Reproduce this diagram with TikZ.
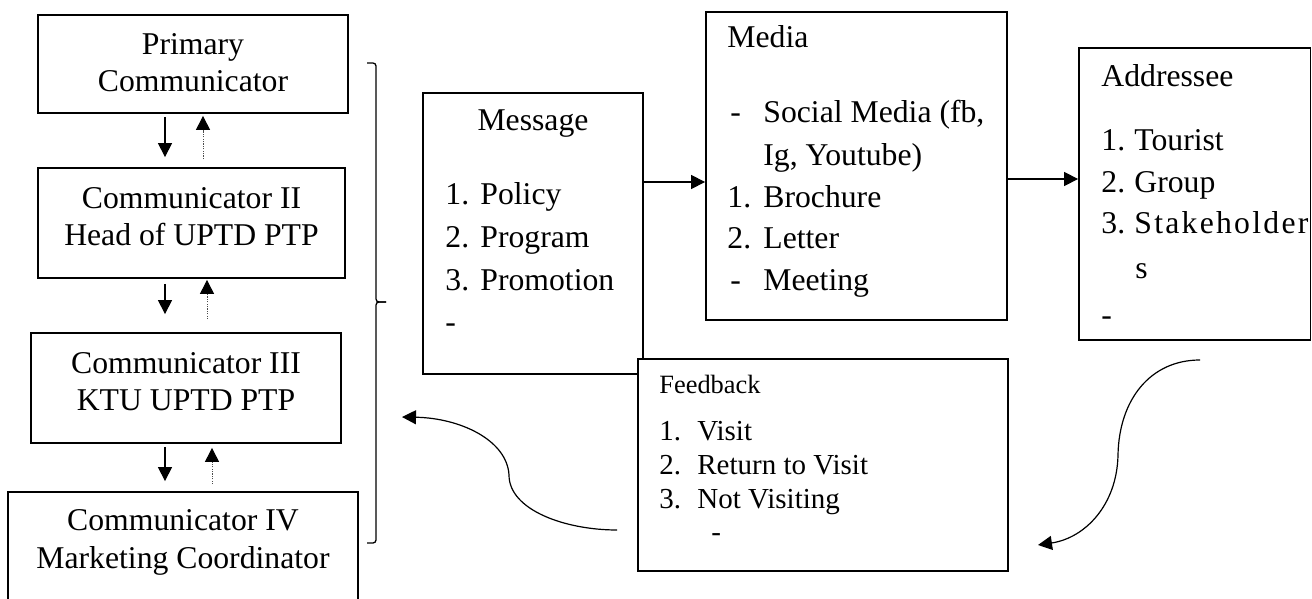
\documentclass[tikz,border=0pt]{standalone}
\usepackage{fontspec}
\setmainfont{Liberation Serif}
\usetikzlibrary{arrows.meta,fit}
\newcommand{\itemrow}[3]{\makebox[#1][l]{#2}#3}
\begin{document}
\begin{tikzpicture}[x=0.5pt,y=-0.5pt,
  box/.style={draw, line width=0.9pt, inner sep=0pt, fill=white},
  txt/.style={inner sep=0pt, font=\fontsize{15.85}{18}\selectfont},
  ftxt/.style={inner sep=0pt, font=\fontsize{14.5}{17}\selectfont},
  fhead/.style={inner sep=0pt, font=\fontsize{13.2}{16}\selectfont},
  arr/.style={line width=0.6pt, -{Triangle[length=7pt,width=7pt]}},
  dotarr/.style={line width=0.5pt, black!70, dash pattern=on 0.6pt off 0.6pt, -{Triangle[length=7pt,width=7pt,color=black]}},
  brace/.style={line width=0.65pt, rounded corners=1.5pt},
]
\useasboundingbox (0,0) rectangle (1312,599);
\clip (0,0) rectangle (1312,599);

% left column boxes
\node[box, fit={(38,15) (348,113)}] (b1) {};
\node[box, fit={(38,168) (345,278)}] (b2) {};
\node[box, fit={(31,333) (341,443)}] (b3) {};
\node[box, fit={(8,492) (358,625)}] (b4) {};

\node[txt, anchor=base] (t1a) at (193,55) {Primary};
\node[txt, anchor=base] (t1b) at (193,92) {Communicator};
\node[txt, anchor=base] (t2a) at (191.5,208) {Communicator II};
\node[txt, anchor=base] (t2b) at (191.5,245) {Head of UPTD PTP};
\node[txt, anchor=base] (t3a) at (186,373) {Communicator III};
\node[txt, anchor=base] (t3b) at (186,410) {KTU UPTD PTP};
\node[txt, anchor=base] (t4a) at (183,530) {Communicator IV};
\node[txt, anchor=base] (t4b) at (183,568) {Marketing Coordinator};

% vertical arrows
\coordinate (xs) at (165,0);
\coordinate (xd1) at (203,0);
\coordinate (xd2) at (207,0);
\coordinate (xd3) at (212,0);
\draw[arr, shorten <=1.5pt, shorten >=5pt] (b1.south -| xs) -- (b2.north -| xs);
\draw[dotarr, shorten <=4pt, shorten >=1pt] (b2.north -| xd1) -- (b1.south -| xd1);
\draw[arr, shorten <=2.5pt, shorten >=9pt] (b2.south -| xs) -- (b3.north -| xs);
\draw[dotarr, shorten <=6.5pt, shorten >=0.5pt] (b3.north -| xd2) -- (b2.south -| xd2);
\draw[arr, shorten <=1.5pt, shorten >=5pt] (b3.south -| xs) -- (b4.north -| xs);
\draw[dotarr, shorten <=3.5pt, shorten >=2pt] (b4.north -| xd3) -- (b3.south -| xd3);

% brace
\draw[brace] (367,63) -- (376,63) -- (376,302) -- (386,302);
\draw[brace] (386,302) -- (376,302) -- (376,543) -- (367,543);

% message / media / addressee / feedback
\node[box, fit={(423,93) (643,374)}] (msg) {};
\node[box, fit={(706,12) (1007,320)}] (media) {};
\node[box, fit={(1079,48) (1310.5,340)}] (addr) {};
\node[box, fit={(638,359) (1008,571)}] (fb) {};

\node[txt, anchor=base] (mh) at (533,131) {Message};
\node[txt, anchor=base west] (m1) at (445,205) {\itemrow{17.5pt}{1.}{Policy}};
\node[txt, anchor=base west] (m2) at (445,247) {\itemrow{17.5pt}{2.}{Program}};
\node[txt, anchor=base west] (m3) at (445,290) {\itemrow{17.5pt}{3.}{Promotion}};
\node[txt, anchor=base west] (m4) at (445,332) {-};

\node[txt, anchor=base west] (dh) at (727,48) {Media};
\node[txt, anchor=base west] (d1) at (730,123) {\itemrow{16.5pt}{-}{Social Media (fb,}};
\node[txt, anchor=base west] (d1b) at (763,165) {Ig, Youtube)};
\node[txt, anchor=base west] (d2) at (727,207) {\itemrow{18pt}{1.}{Brochure}};
\node[txt, anchor=base west] (d3) at (727,249) {\itemrow{18pt}{2.}{Letter}};
\node[txt, anchor=base west] (d4) at (730,290) {\itemrow{16.5pt}{-}{Meeting}};

\node[txt, anchor=base west] (ah) at (1101,87) {Addressee};
\node[txt, anchor=base west] (a1) at (1101,150) {\itemrow{16.5pt}{1.}{Tourist}};
\node[txt, anchor=base west] (a2) at (1101,192) {\itemrow{16.5pt}{2.}{Group}};
\node[txt, anchor=base west] (a3) at (1101,233) {\itemrow{16.5pt}{3.}{\makebox[87pt][s]{S\hfil t\hfil a\hfil k\hfil e\hfil h\hfil o\hfil l\hfil d\hfil e\hfil r}}};
\node[txt, anchor=base west] (a3b) at (1135,278) {s};
\node[txt, anchor=base west] (a4) at (1101,325) {-};

\node[fhead, anchor=base west] (fh) at (659,393) {Feedback};
\node[ftxt, anchor=base west] (f1) at (659,440) {\itemrow{19pt}{1.}{Visit}};
\node[ftxt, anchor=base west] (f2) at (659,474) {\itemrow{19pt}{2.}{Return to Visit}};
\node[ftxt, anchor=base west] (f3) at (659,508) {\itemrow{19pt}{3.}{Not Visiting}};
\node[ftxt, anchor=base west] (f4) at (711,541) {-};

% horizontal connectors
\coordinate (ya) at (0,182);
\coordinate (yb) at (0,179);
\draw[arr] (msg.east |- ya) -- (media.west |- ya);
\draw[arr] (media.east |- yb) -- (addr.west |- yb);

% curved connectors
\coordinate (c1s) at (617,530);
\coordinate (c1e) at (402,417);
\draw[arr] (c1s) .. controls (565,530) and (509,510) .. (509,475) .. controls (507,440) and (460,418) .. (c1e);
\coordinate (c2s) at (1200,360);
\coordinate (c2e) at (1038,545);
\draw[arr] (c2s) .. controls (1150,360) and (1119,400) .. (1118,455) .. controls (1117,505) and (1085,538) .. (c2e);
\end{tikzpicture}
\end{document}
